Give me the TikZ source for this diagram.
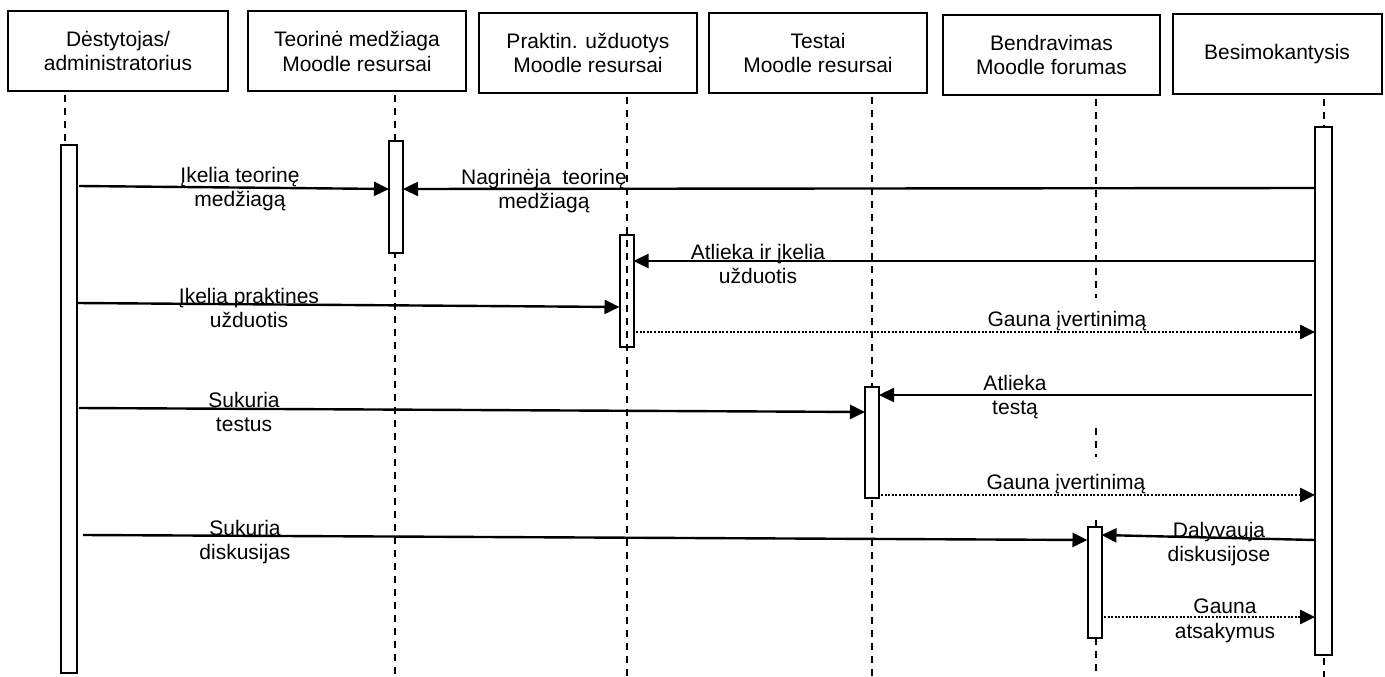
\documentclass[tikz,border=0pt]{standalone}
\usepackage{fontspec}
\setmainfont{Liberation Sans}
\usetikzlibrary{arrows.meta}
\begin{document}
\begin{tikzpicture}[x=1pt,y=-1pt,
  txt/.style={font=\fontsize{21pt}{24.5pt}\selectfont,align=center,inner sep=0pt},
  hdr/.style={draw,line width=2pt,txt,minimum height=80pt},
  actbar/.style={draw,line width=2pt,fill=white,inner sep=0pt},
  life/.style={line width=1.6pt,dash pattern=on 7pt off 6pt},
  msg/.style={line width=2.4pt,-{Triangle[length=15pt,width=14pt]}},
  reply/.style={line width=2.6pt,dash pattern=on 2pt off 1.6pt,-{Triangle[length=15pt,width=14pt]}},
  lbl/.style={txt}]
\useasboundingbox[fill=white] (0,0) rectangle (1385,677);

% header boxes
\node[hdr,minimum width=220pt] (h1) at (118,51) {Dėstytojas/\\administratorius};
\node[hdr,minimum width=218pt] (h2) at (357,51.5) {Teorinė medžiaga\\Moodle resursai};
\node[hdr,minimum width=218pt] (h3) at (588,53) {Praktin. užduotys\\Moodle resursai};
\node[hdr,minimum width=218pt] (h4) at (818,53) {Testai\\Moodle resursai};
\node[hdr,minimum width=217pt] (h5) at (1051.5,55) {Bendravimas\\Moodle forumas};
\node[hdr,minimum width=209pt] (h6) at (1277,54.5) {Besimokantysis};

% lifeline end points
\coordinate (l1a) at (65,95);   \coordinate (l1b) at (65,677);
\coordinate (l2a) at (395,95);  \coordinate (l2b) at (395,677);
\coordinate (l3a) at (627,97);  \coordinate (l3b) at (627,677);
\coordinate (l4a) at (872,97);  \coordinate (l4b) at (872,677);
\coordinate (l5a) at (1096,99); \coordinate (l5b) at (1096,298);
\coordinate (l5c) at (1096,428); \coordinate (l5d) at (1096,457);
\coordinate (l5e) at (1096,520); \coordinate (l5f) at (1096,638);
\coordinate (l5g) at (1096,677);
\coordinate (l6a) at (1324,99); \coordinate (l6b) at (1324,677);

% lifelines (behind bars)
\draw[life] (l1a) -- (l1b);
\draw[life] (l2a) -- (l2b);
\draw[life] (l4a) -- (l4b);
\draw[life] (l5a) -- (l5b);
\draw[life] (l5c) -- (l5d);
\draw[line width=1.6pt] (l5e) -- ++(0,7);
\draw[life] (l5f) -- (l5g);
\draw[life] (l6a) -- (l6b);

% activation bars
\node[actbar,minimum width=16pt,minimum height=528pt] (b1) at (69,409) {};
\node[actbar,minimum width=14pt,minimum height=112pt] (b2) at (396,197) {};
\node[actbar,minimum width=14pt,minimum height=112pt] (b3) at (626.5,291) {};
\node[actbar,minimum width=14pt,minimum height=111pt] (b4) at (872,442.5) {};
\node[actbar,minimum width=14pt,minimum height=111pt] (b5) at (1094.5,582.5) {};
\node[actbar,minimum width=17pt,minimum height=528pt] (b6) at (1323.5,391) {};

% lifeline drawn over its bar
\draw[life] (l3a) -- (l3b);

% message end points
\coordinate (m1s) at (79,186);   \coordinate (m1e) at (389,189);
\coordinate (m2s) at (1315,188); \coordinate (m2e) at (403,189);
\coordinate (m3s) at (1315,261); \coordinate (m3e) at (633.5,261);
\coordinate (m4s) at (77,303);   \coordinate (m4e) at (619.5,307);
\coordinate (m5s) at (636,332);  \coordinate (m5e) at (1315,332);
\coordinate (m6s) at (1312,395); \coordinate (m6e) at (879,395);
\coordinate (m7s) at (79,408);   \coordinate (m7e) at (865,412);
\coordinate (m8s) at (881,495);  \coordinate (m8e) at (1315,495);
\coordinate (m9s) at (83,535);   \coordinate (m9e) at (1087.5,540);
\coordinate (m10s) at (1315,540); \coordinate (m10e) at (1101.5,535);
\coordinate (m11s) at (1104,617); \coordinate (m11e) at (1315,617);

\draw[msg] (m1s) -- (m1e);
\draw[msg] (m2s) -- (m2e);
\draw[msg] (m3s) -- (m3e);
\draw[msg] (m4s) -- (m4e);
\draw[reply] (m5s) -- (m5e);
\draw[msg] (m6s) -- (m6e);
\draw[msg] (m7s) -- (m7e);
\draw[reply] (m8s) -- (m8e);
\draw[msg] (m9s) -- (m9e);
\draw[msg] (m10s) -- (m10e);
\draw[reply] (m11s) -- (m11e);

% labels
\node[lbl] (t1) at (240,189) {Įkelia teorinę\\medžiagą};
\node[lbl] (t2) at (544,191) {Nagrinėja\ \ teorinę\\medžiagą};
\node[lbl] (t3) at (758,264) {Atlieka ir įkelia\\užduotis};
\node[lbl] (t4) at (249,308) {Įkelia praktines\\užduotis};
\node[lbl,anchor=base] (t5) at (1067,326) {Gauna įvertinimą};
\node[lbl] (t6) at (1015,397) {Atlieka\\testą};
\node[lbl] (t7) at (244,412) {Sukuria\\testus};
\node[lbl,anchor=base] (t8) at (1066,489) {Gauna įvertinimą};
\node[lbl] (t9) at (245,542) {Sukuria\\diskusijas};
\node[lbl] (t10) at (1219,544) {Dalyvauja\\diskusijose};
\node[lbl] (t11) at (1225,621) {Gauna\\atsakymus};
\end{tikzpicture}
\end{document}
